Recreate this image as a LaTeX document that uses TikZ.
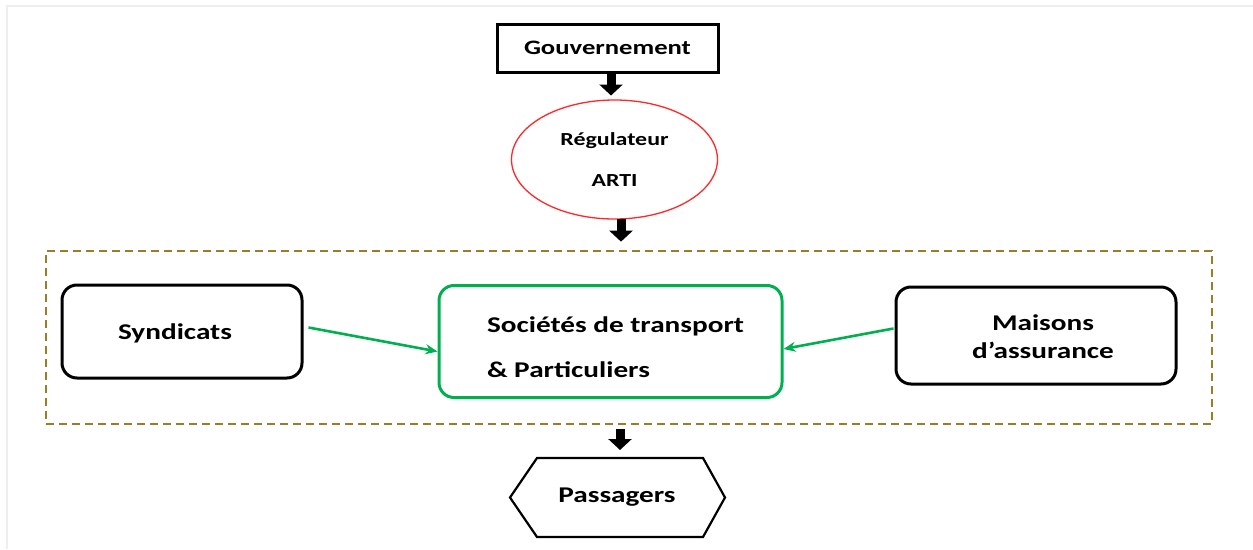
\documentclass[tikz,border=0pt]{standalone}
\usepackage{fontspec}
\setmainfont{Carlito}[FakeStretch=1.3]
\usetikzlibrary{shapes.geometric,arrows.meta,calc}
\definecolor{frameg}{RGB}{238,238,238}
\definecolor{olivedash}{RGB}{155,125,40}
\definecolor{wgreen}{RGB}{0,176,80}
\definecolor{wred}{RGB}{255,40,40}
\tikzset{
  lbl/.style 2 args={font=\bfseries\fontsize{#1}{#2}\selectfont},
  blackbox/.style={draw=black,line width=3pt,rounded corners=15pt,inner sep=0pt},
  blockarrow/.style={line width=9pt,-{Triangle[width=23pt,length=11pt]}},
  greenarrow/.style={draw=wgreen,line width=2.6pt,-{Stealth[length=12pt,width=10pt]}},
}
\begin{document}
\begin{tikzpicture}[x=1pt,y=-1pt]
\useasboundingbox (0,0) rectangle (1253,549);
\fill[white] (0,0) rectangle (1253,549);
\draw[frameg,line width=2pt] (6,6) -- (1253,6);
\draw[frameg,line width=2pt] (7,6) -- (7,549);

% Gouvernement
\node[draw=black,line width=3pt,minimum width=221pt,minimum height=48pt,inner sep=0pt,
      lbl={20.5}{24}] (gouv) at (607.5,48) {Gouvernement};

% Regulateur
\node[ellipse,draw=wred,line width=1.3pt,minimum width=206pt,minimum height=119pt,inner sep=0pt,
      align=center,lbl={18.4}{41}] (reg) at (614.5,159.5)
      {Régulateur\\ARTI};

% container
\node[draw=olivedash,line width=1.5pt,dash pattern=on 8pt off 5pt,
      minimum width=1166pt,minimum height=173pt,inner sep=0pt] (zone) at (629,337.5) {};

% Syndicats
\node[blackbox,minimum width=240pt,minimum height=93pt] (syn) at (182,331.5) {};
\node[lbl={22.5}{26}] (syntext) at (175,333) {Syndicats};

% Societes
\node[draw=wgreen,line width=3pt,rounded corners=15pt,inner sep=0pt,
      minimum width=343pt,minimum height=112pt] (soc) at (610.5,341.5) {};
\node[align=left,lbl={22.5}{45}] (soctext) at (615.5,347.5)
      {Sociétés de transport\\\& Particuliers};

% Maisons
\node[blackbox,minimum width=280pt,minimum height=97pt] (mai) at (1036,335.5) {};
\node[align=center,lbl={22.5}{28.5}] (maitext) at (1043,336.5)
      {Maisons\\d’assurance};

% Passagers
\node[lbl={22.5}{26}] (pas) at (617,497.5) {Passagers};
\draw[black,line width=2.2pt,line join=miter]
  (510,497.5) -- (537,458) -- (703,458) -- (725,497.5) -- (703,537) -- (537,537) -- cycle;
\coordinate (pastop) at (620,458);

% block arrows
\draw[blockarrow] ($(gouv.south)+(3.5,0)$) -- ($(gouv.south)+(3.5,22)$);
\draw[blockarrow] ($(reg.south)+(6.5,-1)$) -- ($(reg.south)+(6.5,22)$);
\draw[blockarrow] ($(zone.south)+(-9,4)$) -- ($(pastop)+(0,-8)$);

% green arrows
\draw[greenarrow] ($(syn.east)+(5,-4)$) -- ($(soc.west)+(0,10)$);
\draw[greenarrow] ($(mai.west)+(-1,-7)$) -- ($(soc.east)+(0,7.5)$);
\end{tikzpicture}
\end{document}
